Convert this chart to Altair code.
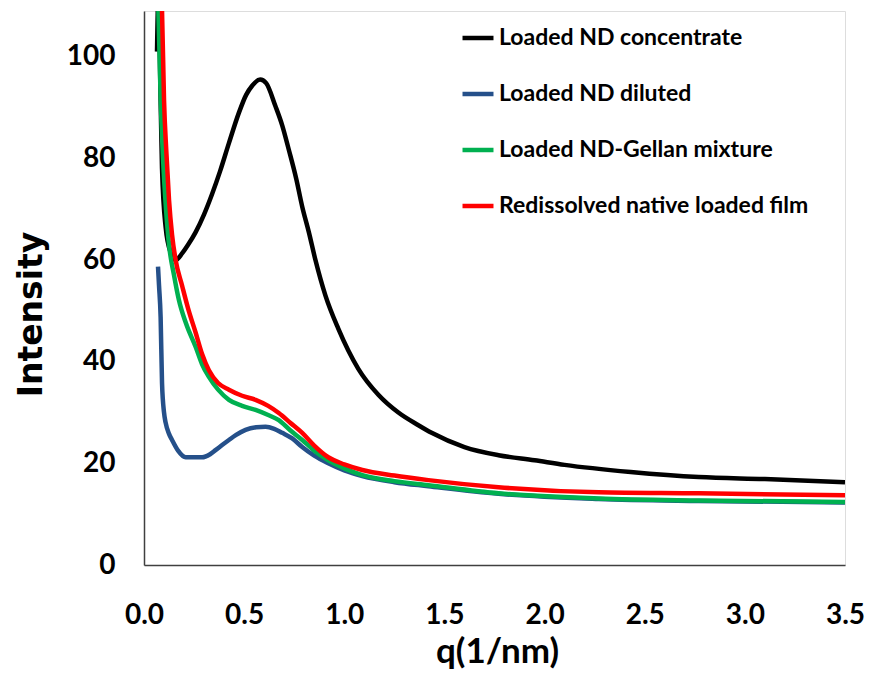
import altair as alt
import pandas as pd

# SAXS scattering profiles: intensity versus scattering vector q (1/nm)
series_names = [
    "Loaded ND concentrate",
    "Loaded ND diluted",
    "Loaded ND-Gellan mixture",
    "Redissolved native loaded film",
]
series_colors = ["#000000", "#25508a", "#00b050", "#ff0000"]

concentrate_q = [0.065, 0.072, 0.083, 0.09, 0.108, 0.133, 0.158, 0.19, 0.22, 0.258,
                 0.30, 0.34, 0.38, 0.424, 0.474, 0.51, 0.54, 0.58, 0.61, 0.656,
                 0.69, 0.723, 0.76, 0.79, 0.823, 0.856, 0.906, 0.97, 1.02, 1.07,
                 1.17, 1.27, 1.37, 1.436, 1.6, 1.77, 1.95, 2.1, 2.43, 2.77, 3.1, 3.5]
concentrate_i = [101, 112, 91.5, 78, 66.5, 61.5, 60.0, 61.3, 63.0, 65.5,
                 69.0, 73, 77.5, 83, 89, 92.5, 94.3, 95.5, 94.8, 90.3,
                 86.5, 81.7, 76, 70.5, 65.5, 60, 53, 46.5, 42.2, 38.6,
                 33.5, 30, 27.5, 26.0, 23.2, 21.6, 20.6, 19.7, 18.3, 17.3, 16.9, 16.3]

diluted_q = [0.07, 0.075, 0.083, 0.09, 0.1, 0.108, 0.125, 0.14, 0.17, 0.208,
             0.25, 0.29, 0.33, 0.357, 0.39, 0.424, 0.46, 0.507, 0.56, 0.607,
             0.65, 0.69, 0.74, 0.79, 0.85, 0.92, 1.0, 1.09, 1.25, 1.42,
             1.77, 2.27, 2.77, 3.5]
diluted_i = [58.7, 55, 48.8, 35.8, 30, 28, 25.8, 24.6, 22.5, 21.2,
             21.2, 21.2, 21.8, 22.6, 23.6, 24.6, 25.6, 26.6, 27.1, 27.2,
             26.8, 26, 24.9, 23.2, 21.5, 20, 18.6, 17.5, 16.3, 15.5,
             14.0, 13.0, 12.6, 12.3]

gellan_q = [0.07, 0.083, 0.095, 0.11, 0.125, 0.15, 0.174, 0.21, 0.258, 0.29,
            0.324, 0.37, 0.424, 0.49, 0.557, 0.62, 0.673, 0.73, 0.79, 0.85,
            0.92, 1.0, 1.09, 1.25, 1.42, 1.77, 2.27, 2.77, 3.5]
gellan_i = [112, 92, 80, 70, 63, 57, 52.2, 47.5, 42.9, 39.5,
            37, 34.5, 32.5, 31.3, 30.5, 29.5, 28.5, 26.5, 24.6, 22.5,
            20.6, 19, 17.7, 16.5, 15.7, 14.1, 13.1, 12.7, 12.4]

film_q = [0.075, 0.09, 0.1, 0.112, 0.125, 0.14, 0.158, 0.19, 0.22, 0.258,
          0.29, 0.324, 0.37, 0.424, 0.49, 0.557, 0.62, 0.673, 0.73, 0.79,
          0.85, 0.92, 1.0, 1.09, 1.25, 1.42, 1.77, 2.27, 2.77, 3.5]
film_i = [118, 109, 91.5, 81, 71.8, 65, 60, 55, 50.5, 45.7,
          41.5, 38.3, 35.8, 34.5, 33.3, 32.5, 31.3, 29.9, 28, 26,
          23.5, 21.2, 19.8, 18.7, 17.6, 16.7, 15.3, 14.3, 14.1, 13.7]

x_ticks = [0.0, 0.5, 1.0, 1.5, 2.0, 2.5, 3.0, 3.5]
y_ticks = [0, 20, 40, 60, 80, 100]

frames = []
for order, (name, qs, vals) in enumerate(zip(
        series_names,
        [concentrate_q, diluted_q, gellan_q, film_q],
        [concentrate_i, diluted_i, gellan_i, film_i])):
    frames.append(pd.DataFrame({"q": qs, "intensity": vals, "series": name, "order": order}))
df = pd.concat(frames, ignore_index=True)

font = "Lato"

chart = alt.Chart(df).mark_line(
    clip=True, strokeWidth=4.5, interpolate="monotone"
).encode(
    x=alt.X(
        "q:Q",
        scale=alt.Scale(domain=[0, 3.5], nice=False, zero=False),
        axis=alt.Axis(
            title="q(1/nm)", values=x_ticks, format=".1f",
            labelFont=font, labelFontSize=28, labelFontWeight="bold",
            labelColor="#000000", labelPadding=36, ticks=False,
            titleFont=font, titleFontSize=35, titleFontWeight="bold",
            titleColor="#000000", titleX=353, titleY=69,
            titleBaseline="top", titleAlign="center",
            domainColor="#404040", domainWidth=1.5, grid=False,
            labelFlush=False,
        ),
    ),
    y=alt.Y(
        "intensity:Q",
        scale=alt.Scale(domain=[0, 109], nice=False),
        axis=alt.Axis(
            title="Intensity", values=y_ticks,
            labelFont=font, labelFontSize=28, labelFontWeight="bold",
            labelColor="#000000", labelPadding=29, ticks=False,
            titleFont="DejaVu Sans", titleFontSize=33, titleFontWeight="bold",
            titleColor="#000000", titleX=-96, titleY=303,
            titleAngle=270, titleBaseline="bottom", titleAlign="center",
            domainColor="#404040", domainWidth=1.5, grid=False,
        ),
    ),
    color=alt.Color(
        "series:N",
        scale=alt.Scale(domain=series_names, range=series_colors),
        legend=alt.Legend(
            title=None, orient="none", legendX=316, legendY=9,
            symbolType="stroke", symbolSize=960, symbolStrokeWidth=4.5,
            labelFont=font, labelFontSize=23, labelFontWeight="bold",
            labelColor="#000000", labelOffset=3, rowPadding=26,
            labelLimit=400,
        ),
    ),
    order=alt.Order("order:Q"),
    detail="series:N",
).properties(
    width=701,
    height=554,
    autosize=alt.AutoSizeParams(type="none"),
    padding={"left": 144, "top": 11, "right": 30, "bottom": 111},
).configure_view(
    stroke=None
).configure(
    background="#ffffff"
)

chart.save("out.html", embed_options={"renderer": "svg", "actions": False})
